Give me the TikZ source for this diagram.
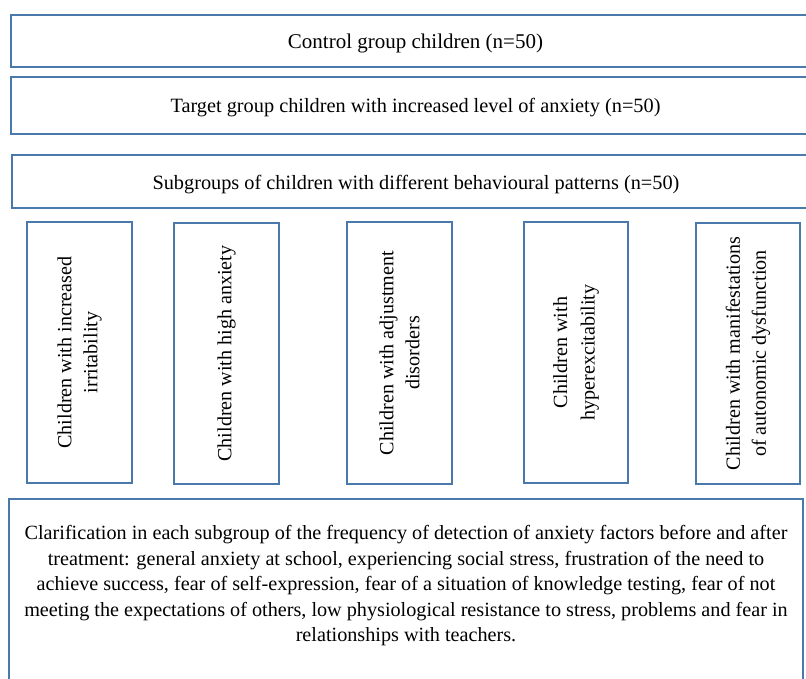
\documentclass[tikz,border=0pt]{standalone}
\usepackage{fontspec}
\setmainfont{Liberation Serif}
\definecolor{boxblue}{HTML}{4A7AAB}
\begin{document}
\begin{tikzpicture}[x=1pt,y=-1pt,
  boxstyle/.style={draw=boxblue, line width=1.8pt, fill=white, inner sep=0pt},
  hbox/.style={boxstyle, font=\fontsize{20.3}{25}\selectfont, text depth=0.5pt},
  vbox/.style={boxstyle, rotate=90, align=center, minimum width=261pt, font=\fontsize{20.1}{26}\selectfont},
  btext/.style={align=center, inner sep=0pt, font=\fontsize{20.2}{25.5}\selectfont}]
\useasboundingbox (0,0) rectangle (806,679);
\fill[white] (0,0) rectangle (806,679);
\clip (0,0) rectangle (806,679);
% horizontal boxes
\node[hbox, minimum width=809pt, minimum height=52pt, text height=16.5pt, font=\fontsize{21}{25}\selectfont] (control) at (415.5,41) {Control group children (n=50)};
\node[hbox, minimum width=809pt, minimum height=57pt, text height=14.5pt] (target) at (415.5,105.5) {Target group children with increased level of anxiety (n=50)};
\node[hbox, minimum width=808pt, minimum height=53pt, text height=17.5pt] (subgroups) at (416,181.5) {Subgroups of children with different behavioural patterns (n=50)};
% vertical boxes
\node[vbox, minimum height=105pt] (irrit) at (79.5,352.5) {Children with increased\\irritability};
\node[vbox, minimum height=105pt] (high) at (226.5,353.5) {Children with high anxiety};
\node[vbox, minimum height=105pt, minimum width=262pt] (adjust) at (399.5,353) {Children with adjustment\\disorders};
\node[vbox, minimum height=104pt, font=\fontsize{20.1}{27.5}\selectfont] (hyper) at (576,352.5) {Children with\\hyperexcitability};
\node[vbox, minimum height=104pt] (auto) at (748,353.5) {Children with manifestations\\of autonomic dysfunction};
% bottom box
\node[boxstyle, minimum width=794pt, minimum height=240pt] (clarbox) at (406,619) {};
\node[btext] (clartext) at (406,586) {Clarification in each subgroup of the frequency of detection of anxiety factors before and after\\
treatment: general anxiety at school, experiencing social stress, frustration of the need to\\
achieve success, fear of self-expression, fear of a situation of knowledge testing, fear of not\\
meeting the expectations of others, low physiological resistance to stress, problems and fear in\\
relationships with teachers.};
\end{tikzpicture}
\end{document}
